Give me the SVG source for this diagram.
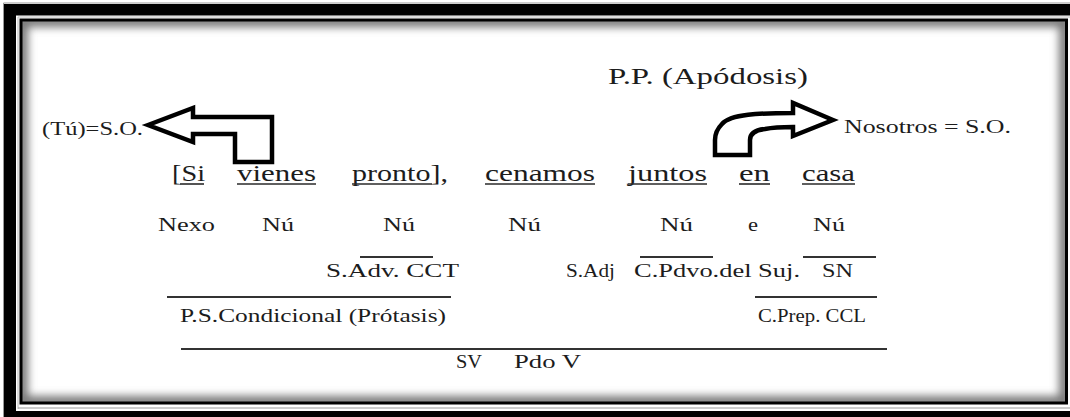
<svg xmlns="http://www.w3.org/2000/svg" width="1070" height="417" viewBox="0 0 1070 417">
<style>
  text { font-family: "Liberation Serif", "Times New Roman", serif; fill: #1c1c1c; }
  .big { font-size: 24px; }
  .mid { font-size: 18px; }
  .sm { font-size: 19.5px; }
  .ul { stroke: #2a2a2a; stroke-width: 1.6; }
  .bar { stroke: #333; stroke-width: 2; }
  .arrow { fill: #fff; stroke: #000; stroke-width: 4.5; stroke-linejoin: miter; }
</style>
<defs>
  <clipPath id="inner"><rect x="22" y="21" width="1043" height="381"/></clipPath>
  <filter id="soft" x="-5%" y="-5%" width="110%" height="110%"><feGaussianBlur stdDeviation="4.5"/></filter>
</defs>
<rect width="1070" height="417" fill="#fff"/>
<g id="frame">
  <path d="M4,417 V4 H1070 V15.5 H16 V417 Z" fill="#000"/>
  <rect x="16" y="411" width="1054" height="6" fill="#000"/>
  <line x1="3.5" y1="3" x2="1070" y2="3" stroke="#999" stroke-width="1"/>
  <line x1="3.5" y1="3" x2="3.5" y2="417" stroke="#999" stroke-width="1"/>
  <line x1="18" y1="17" x2="1070" y2="17" stroke="#bbb" stroke-width="1"/>
  <line x1="18" y1="17" x2="18" y2="409" stroke="#bbb" stroke-width="1"/>
  <line x1="18" y1="408" x2="1070" y2="408" stroke="#999" stroke-width="1"/>
  <g clip-path="url(#inner)">
    <rect x="22" y="21" width="1043" height="381" fill="none" stroke="#777" stroke-width="12" filter="url(#soft)"/>
  </g>
  <rect x="21" y="20" width="1045.5" height="383" fill="none" stroke="#000" stroke-width="3"/>
</g>
<g id="connectors">
  <polygon class="arrow" points="148,125 193,108 193,117 272,117 272,162 235,162 235,134 193,134 193,142"/>
  <path class="arrow" d="M833,120 L793,103 L793,113 C760,113 730,114 722,124 C716,130 715,135 715,140 L715,155 L750,155 L750,140 C750,134 755,130 765,129 C775,127 785,127 793,127 L793,136 Z"/>
</g>
<g id="title"><text class="big" x="608" y="84" textLength="200" lengthAdjust="spacingAndGlyphs">P.P. (Apódosis)</text></g>
<g id="so-left"><text class="mid" x="42" y="135" textLength="101" lengthAdjust="spacingAndGlyphs">(Tú)=S.O.</text></g>
<g id="so-right"><text class="mid" x="844" y="133" textLength="167" lengthAdjust="spacingAndGlyphs">Nosotros = S.O.</text></g>
<g id="sentence">
  <text class="big" x="172" y="181" textLength="33" lengthAdjust="spacingAndGlyphs">[Si</text>
  <text class="big" x="237" y="181" textLength="79" lengthAdjust="spacingAndGlyphs">vienes</text>
  <text class="big" x="352" y="181" textLength="96" lengthAdjust="spacingAndGlyphs">pronto],</text>
  <text class="big" x="485" y="181" textLength="110" lengthAdjust="spacingAndGlyphs">cenamos</text>
  <text class="big" x="628" y="181" textLength="79" lengthAdjust="spacingAndGlyphs">juntos</text>
  <text class="big" x="739" y="181" textLength="31" lengthAdjust="spacingAndGlyphs">en</text>
  <text class="big" x="802" y="181" textLength="53" lengthAdjust="spacingAndGlyphs">casa</text>
  <line class="ul" x1="180" y1="184" x2="204" y2="184"/>
  <line class="ul" x1="237" y1="184" x2="316" y2="184"/>
  <line class="ul" x1="352" y1="184" x2="432" y2="184"/>
  <line class="ul" x1="485" y1="184" x2="595" y2="184"/>
  <line class="ul" x1="628" y1="184" x2="707" y2="184"/>
  <line class="ul" x1="739" y1="184" x2="770" y2="184"/>
  <line class="ul" x1="802" y1="184" x2="855" y2="184"/>
</g>
<g id="functions">
  <text class="sm" x="158" y="231" textLength="57" lengthAdjust="spacingAndGlyphs">Nexo</text>
  <text class="sm" x="262" y="231" textLength="32" lengthAdjust="spacingAndGlyphs">Nú</text>
  <text class="sm" x="383" y="231" textLength="32" lengthAdjust="spacingAndGlyphs">Nú</text>
  <text class="sm" x="508" y="231" textLength="33" lengthAdjust="spacingAndGlyphs">Nú</text>
  <text class="sm" x="660" y="231" textLength="33" lengthAdjust="spacingAndGlyphs">Nú</text>
  <text class="sm" x="748" y="231" textLength="10" lengthAdjust="spacingAndGlyphs">e</text>
  <text class="sm" x="813" y="231" textLength="32" lengthAdjust="spacingAndGlyphs">Nú</text>
</g>
<g id="phrases">
  <line class="bar" x1="360" y1="257" x2="433" y2="257"/>
  <line class="bar" x1="640" y1="257" x2="713" y2="257"/>
  <line class="bar" x1="803" y1="257" x2="876" y2="257"/>
  <text class="sm" x="326" y="277" textLength="133" lengthAdjust="spacingAndGlyphs">S.Adv. CCT</text>
  <text class="sm" x="566" y="277" textLength="49" lengthAdjust="spacingAndGlyphs">S.Adj</text>
  <text class="sm" x="634" y="277" textLength="166" lengthAdjust="spacingAndGlyphs">C.Pdvo.del Suj.</text>
  <text class="sm" x="822" y="277" textLength="31" lengthAdjust="spacingAndGlyphs">SN</text>
</g>
<g id="clauses">
  <line class="bar" x1="167" y1="297" x2="451" y2="297"/>
  <line class="bar" x1="755" y1="297" x2="877" y2="297"/>
  <text class="sm" x="180" y="322" textLength="266" lengthAdjust="spacingAndGlyphs">P.S.Condicional (Prótasis)</text>
  <text class="sm" x="758" y="322" textLength="108" lengthAdjust="spacingAndGlyphs">C.Prep. CCL</text>
</g>
<g id="predicate">
  <line class="bar" x1="181" y1="349" x2="887" y2="349"/>
  <text class="sm" x="456" y="368" textLength="26" lengthAdjust="spacingAndGlyphs">SV</text>
  <text class="sm" x="514" y="368" textLength="67" lengthAdjust="spacingAndGlyphs">Pdo V</text>
</g>
</svg>
